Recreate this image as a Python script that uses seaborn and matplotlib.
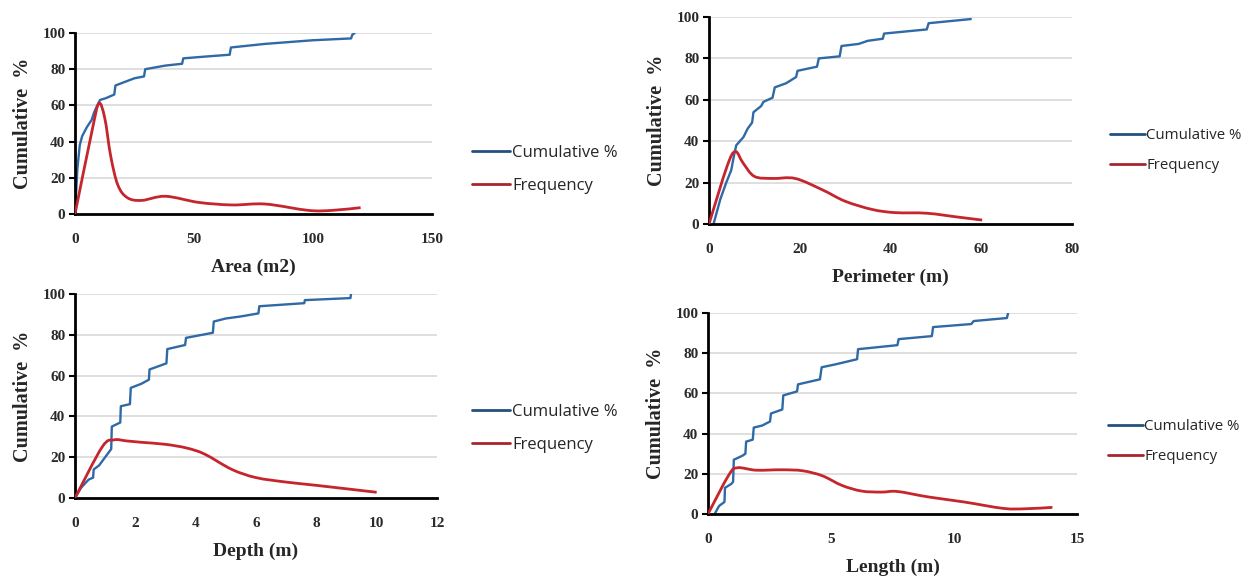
import numpy as np
import matplotlib
matplotlib.use("Agg")
import matplotlib.pyplot as plt
from matplotlib.path import Path
from matplotlib.patches import PathPatch
from matplotlib.lines import Line2D
import seaborn as sns

# ---------------- data ----------------
area_cum_x = [0, 1, 2, 3, 5, 7, 8, 9, 10.5, 13, 16.5, 17, 21, 25, 29, 29.5, 38, 45, 45.5, 55, 65, 65.5, 80, 90, 100, 116, 116.5, 117.5]
area_cum_y = [0, 25, 38, 43, 48, 52, 56, 59, 63, 64, 66, 71, 73, 75, 76, 80, 82, 83, 86, 87, 88, 92, 94, 95, 96, 97, 99, 100]
area_freq_x = [0, 7, 10, 12.5, 15, 18, 22, 28, 38, 52, 66, 80, 98, 108, 120]
area_freq_y = [0, 45, 61, 53, 32, 16, 9, 7.5, 9.8, 6.4, 5, 5.5, 2, 2, 3.5]

per_cum_x = [1, 2.5, 3.8, 4.9, 5.5, 6, 7.6, 8.5, 9.5, 9.8, 11.5, 12, 14, 14.5, 17, 19.2, 19.5, 23.8, 24.2, 28.8, 29.2, 33, 35, 38.3, 38.6, 48, 48.4, 57.7]
per_cum_y = [0, 12, 20, 26, 33, 38, 42, 46, 49, 54, 57, 59, 61, 66, 68, 71, 74, 76, 80, 81, 86, 87, 88.5, 89.5, 92, 94, 97, 99]
per_freq_x = [0, 4, 5.8, 7.5, 10, 14, 19, 25, 30, 36, 41, 48, 55, 60.2]
per_freq_y = [0, 28, 35, 29.5, 23, 22, 22, 16.5, 11, 7, 5.5, 5.2, 3.3, 1.9]

dep_cum_x = [0, 0.2, 0.45, 0.6, 0.62, 0.8, 0.95, 1.0, 1.2, 1.22, 1.5, 1.52, 1.82, 1.85, 2.2, 2.45, 2.47, 3.03, 3.06, 3.65, 3.68, 4.57, 4.6, 5.0, 5.5, 6.08, 6.11, 7.6, 7.62, 9.13, 9.15]
dep_cum_y = [0, 5, 9, 10, 14, 16, 19, 20, 24, 35, 37, 45, 46, 54, 56, 58, 63, 66, 73, 75, 78.5, 81, 86.5, 88, 89, 90.5, 94, 95.5, 97, 98, 100]
dep_freq_x = [0, 0.9, 1.3, 1.7, 2.2, 3, 3.7, 4.3, 5.2, 6, 7, 8, 10]
dep_freq_y = [0, 25, 28.5, 28, 27.3, 26.3, 24.5, 21.5, 14, 10, 7.8, 6.2, 2.8]

len_cum_x = [0.27, 0.45, 0.67, 0.69, 0.95, 1.02, 1.05, 1.4, 1.52, 1.55, 1.82, 1.86, 2.2, 2.52, 2.56, 3.02, 3.06, 3.62, 3.66, 4.55, 4.62, 5.2, 6.06, 6.1, 7.7, 7.75, 9.1, 9.15, 10.7, 10.8, 12.15, 12.2]
len_cum_y = [0, 4, 6, 13, 15, 16, 27, 29, 30, 36, 37, 43, 44, 46, 50, 52, 59, 61, 64.5, 67, 73, 74.5, 77, 82, 84, 87, 88.5, 93, 94.5, 96, 97.5, 100]
len_freq_x = [0, 0.85, 1.2, 1.95, 3, 3.85, 4.65, 5.45, 6.25, 7.05, 7.7, 8.95, 10.4, 12, 12.9, 14]
len_freq_y = [0, 19.5, 23, 21.8, 22, 21.5, 19, 14.2, 11.4, 10.9, 11.2, 8.5, 6, 2.8, 2.6, 3.3]

x_labels = ["Area (m2)", "Perimeter (m)", "Depth (m)", "Length (m)"]
x_limits = [150, 80, 12, 15]
x_steps = [50, 20, 2, 5]
legend_labels = ["Cumulative %", "Frequency"]

BLUE = "#2f69a6"
RED = "#c5252d"
BLUE_L = "#24507f"
RED_L = "#a8262b"

sns.set_theme(style="white")
plt.rcParams["font.family"] = ["DejaVu Sans"]

fig = plt.figure(figsize=(12.46, 5.77), dpi=100)

rects = [
    [75 / 1246, 363 / 577, 357 / 1246, 181 / 577],
    [709 / 1246, 353 / 577, 363 / 1246, 207 / 577],
    [75 / 1246, 79 / 577, 362 / 1246, 204 / 577],
    [708 / 1246, 63 / 577, 369 / 1246, 201 / 577],
]
legend_pos = [(472, 156), (1110, 139), (472, 415), (1108, 430)]
legend_size = [12, 10.8, 12, 10.8]

cums = [(area_cum_x, area_cum_y), (per_cum_x, per_cum_y), (dep_cum_x, dep_cum_y), (len_cum_x, len_cum_y)]
freqs = [(area_freq_x, area_freq_y), (per_freq_x, per_freq_y), (dep_freq_x, dep_freq_y), (len_freq_x, len_freq_y)]


def smooth_path(xs, ys):
    pts = np.column_stack([xs, ys]).astype(float)
    n = len(pts)
    verts = [pts[0]]
    codes = [Path.MOVETO]
    for i in range(n - 1):
        p0 = pts[i - 1] if i > 0 else pts[i]
        p1 = pts[i]
        p2 = pts[i + 1]
        p3 = pts[i + 2] if i + 2 < n else pts[i + 1]
        c1 = p1 + (p2 - p0) / 6.0
        c2 = p2 - (p3 - p1) / 6.0
        verts += [c1, c2, p2]
        codes += [Path.CURVE4, Path.CURVE4, Path.CURVE4]
    return Path(verts, codes)


serif_bold = dict(family="Liberation Serif", weight="bold")

for i in range(4):
    ax = fig.add_axes(rects[i])
    cx, cy = cums[i]
    sns.lineplot(x=cx, y=cy, sort=False, estimator=None, color=BLUE, lw=1.7, ax=ax)
    fx, fy = freqs[i]
    ax.add_patch(PathPatch(smooth_path(fx, fy), facecolor="none", edgecolor=RED, lw=2.0, zorder=3))

    ax.set_xlim(0, x_limits[i])
    ax.set_ylim(0, 100)
    ax.set_xticks(np.arange(0, x_limits[i] + 0.001, x_steps[i]))
    ax.set_yticks(np.arange(0, 101, 20))
    ax.grid(axis="y", color="#d9d9d9", lw=1.2)
    ax.grid(axis="x", visible=False)
    for s in ["top", "right"]:
        ax.spines[s].set_visible(False)
    for s in ["left", "bottom"]:
        ax.spines[s].set_color("black")
        ax.spines[s].set_linewidth(2)
    ax.tick_params(axis="y", left=True, length=4, width=1.5, color="black", pad=3)
    ax.tick_params(axis="x", bottom=False, pad=8)
    for lab in ax.get_xticklabels() + ax.get_yticklabels():
        lab.set_family("Liberation Serif")
        lab.set_fontweight("bold")
        lab.set_fontsize(11)
        lab.set_color("#2a2a2a")
    ax.set_xlabel(x_labels[i], fontsize=14, labelpad=9, **serif_bold)
    ax.set_ylabel("Cumulative  %", fontsize=14.5, labelpad=7, **serif_bold)

    handles = [Line2D([], [], color=BLUE_L, lw=2), Line2D([], [], color=RED_L, lw=2)]
    lx, ly = legend_pos[i]
    fig.legend(handles, legend_labels, loc="upper left",
               bbox_to_anchor=(lx / 1246, 1 - (ly - 11) / 577),
               frameon=False, handlelength=2.3, handletextpad=0.1,
               labelspacing=1.0, borderpad=0, borderaxespad=0,
               prop=dict(family="Open Sans", size=legend_size[i]))

fig.savefig("out.png", dpi=100)
